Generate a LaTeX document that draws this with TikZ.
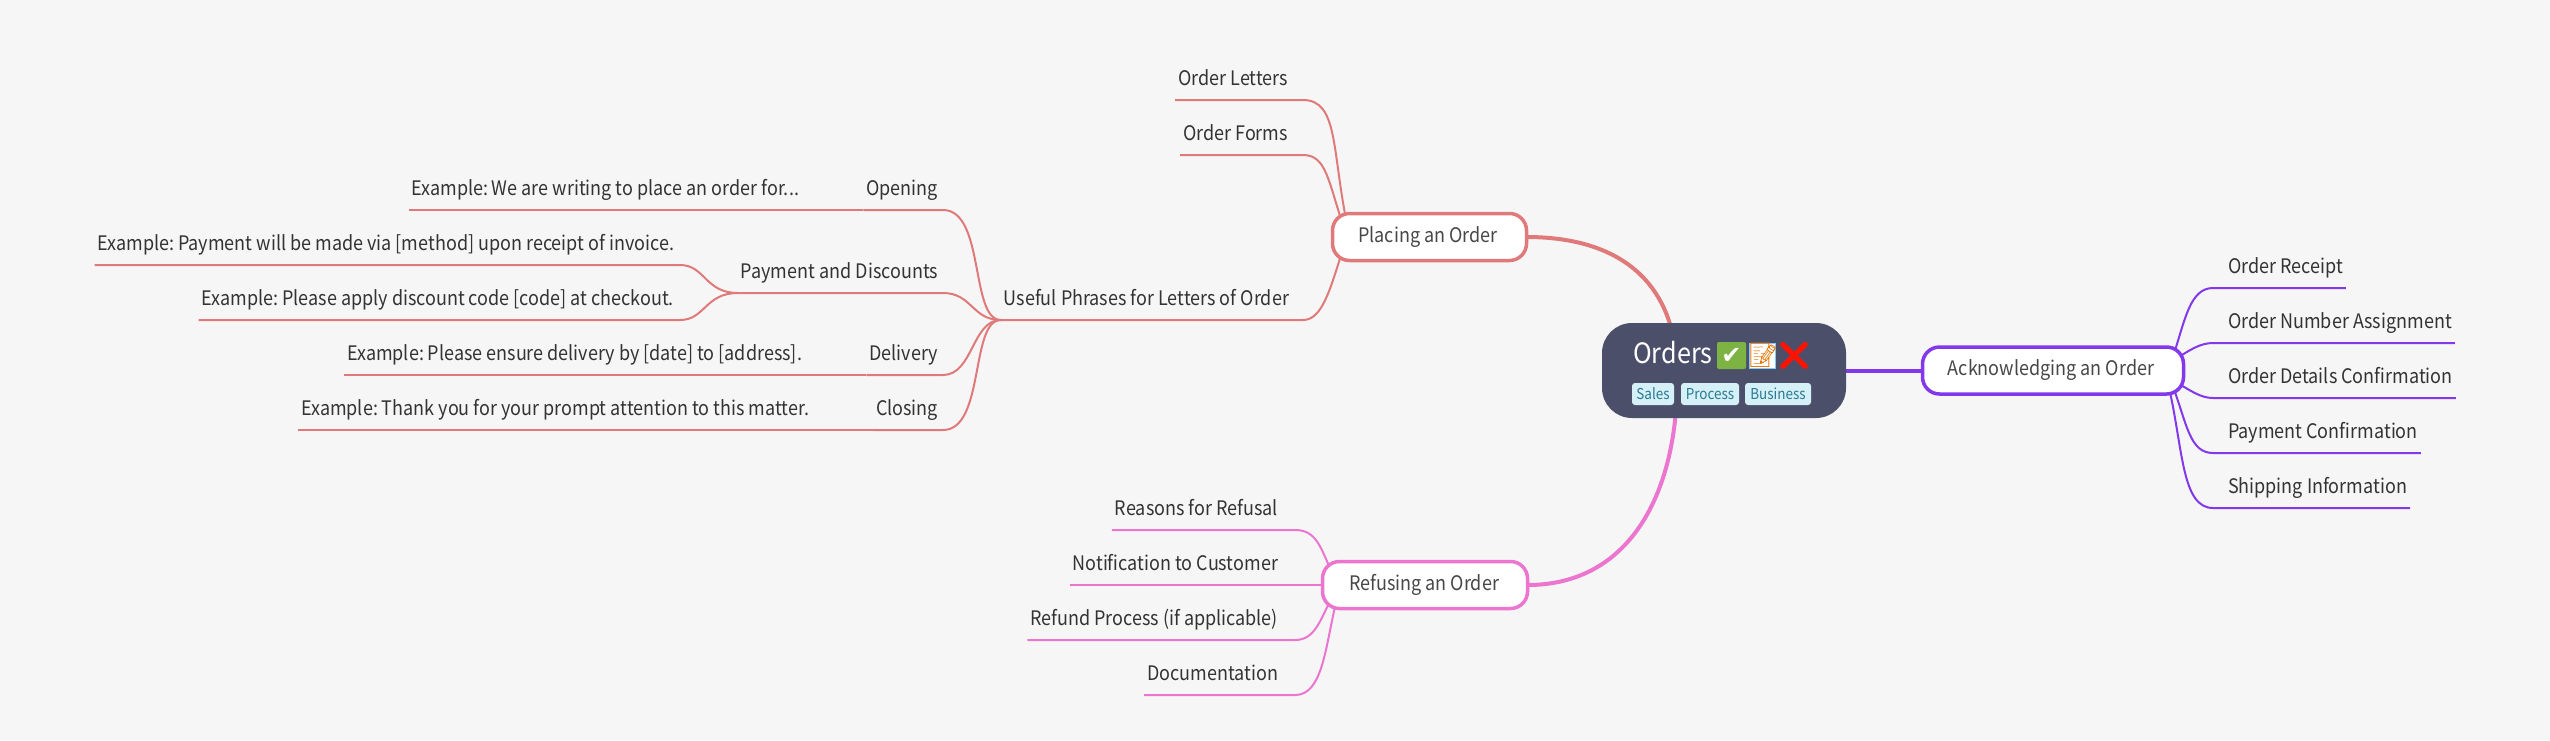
\documentclass[tikz,border=0pt]{standalone}
\usepackage{fontspec}
\setmainfont[FakeStretch=0.9]{Noto Sans CJK SC}
\newfontfamily\emojifont{Noto Emoji}
\newfontfamily\symbfont{DejaVu Sans}
\usetikzlibrary{backgrounds}
\definecolor{bgc}{HTML}{F6F6F6}
\definecolor{redc}{HTML}{E07A7A}
\definecolor{pinkc}{HTML}{EC75D0}
\definecolor{purc}{HTML}{8338EC}
\definecolor{rootc}{HTML}{4C4F69}
\definecolor{txtc}{HTML}{333333}
\definecolor{tagf}{HTML}{D5F0F7}
\definecolor{tagt}{HTML}{2A7A92}
\definecolor{checkc}{HTML}{7CB342}
\tikzset{
  x=1pt,y=-1pt,
  leaf/.style={inner xsep=3pt,inner ysep=0pt,outer sep=0pt,text height=15pt,text depth=15pt,text=txtc,font=\fontsize{20}{24}\selectfont},
  lefty/.style={leaf,anchor=south east},
  righty/.style={leaf,anchor=south west},
  branch/.style={draw,line width=3.5pt,fill=white,rounded corners=17pt,inner sep=0pt,outer sep=0pt,text=txtc!90!white,font=\fontsize{20}{24}\selectfont,minimum height=47pt},
  tagbox/.style={fill=tagf,text=tagt,rounded corners=3pt,inner sep=0pt,minimum height=22pt,font=\fontsize{15}{18}\selectfont},
  thin link/.style={line width=2pt},
  main link/.style={line width=4pt},
  emo/.style={inner sep=0pt,font=\emojifont\fontsize{24}{28}\selectfont},
}
\begin{document}
\begin{tikzpicture}
\useasboundingbox (0,0) rectangle (2550,740);
% central node
\node[fill=rootc,rounded corners=30pt,minimum width=244pt,minimum height=95pt,inner sep=0pt,outer sep=0pt] (root) at (1724,370.5) {};
\node[anchor=base west,inner sep=0pt,text=white,font=\fontsize{28}{32}\selectfont] (title) at (1633,363) {Orders};
\fill[checkc,rounded corners=2pt] (1717,342) rectangle (1746,369);
\node[inner sep=0pt,text=white,font=\symbfont\fontsize{24}{28}\selectfont] (echeck) at (1731.5,355.5) {✔};
\fill[white,draw=blue!40!cyan!50,line width=1pt] (1749,343) rectangle (1775,368);
\node[emo,text=orange!90!black] (ememo) at (1763,355.5) {📝};
\node[emo,text=red!85!orange,font=\emojifont\fontsize{28}{32}\selectfont] (ecross) at (1794,355.5) {❌};
\node[tagbox,minimum width=42pt] (t1) at (1653,394) {Sales};
\node[tagbox,minimum width=58pt] (t2) at (1710,394) {Process};
\node[tagbox,minimum width=66pt] (t3) at (1778,394) {Business};
% branch nodes
\node[branch,draw=redc,minimum width=194pt] (place) at (1429.5,237) {\kern-3pt Placing an Order};
\node[branch,draw=pinkc,minimum width=205pt] (refuse) at (1425,585) {\kern-2pt Refusing an Order};
\node[branch,draw=purc,minimum width=261pt] (ack) at (2053,370.5) {\kern-4pt Acknowledging an Order};
% left leaves of Placing
\node[lefty] (ol) at (1291,100) {Order Letters};
\node[lefty] (of) at (1291,155) {Order Forms};
\node[lefty] (up) at (1292,320) {Useful Phrases for Letters of Order};
\node[lefty] (op) at (941,210) {Opening};
\node[lefty] (pd) at (941,293) {Payment and Discounts};
\node[lefty] (de) at (941,375) {Delivery};
\node[lefty] (cl) at (941,430) {Closing};
\node[lefty] (e1) at (802,210) {Example:\kern-2pt{} We are writing to place an order for...};
\node[lefty] (e2) at (677,265) {Example:\kern-1.5pt{} Payment will be made via [method] upon receipt of invoice.};
\node[lefty] (e3) at (677,320) {Example:\kern-1.5pt{} Please apply discount code [code] at checkout.};
\node[lefty] (e4) at (805,375) {Example:\kern-1.5pt{} Please ensure delivery by [date] to [address].};
\node[lefty] (e5) at (812,430) {Example:\kern-1.5pt{} Thank you for your prompt attention to this matter.};
% leaves of Refusing
\node[lefty] (r1) at (1281,530) {Reasons for Refusal};
\node[lefty] (r2) at (1281,585) {Notification to Customer};
\node[lefty] (r3) at (1281,640) {Refund Process (if applicable)};
\node[lefty] (r4) at (1281,695) {Documentation};
% leaves of Acknowledging
\node[righty] (a1) at (2225,288) {Order Receipt};
\node[righty] (a2) at (2225,343) {Order Number Assignment};
\node[righty] (a3) at (2225,398) {Order Details Confirmation};
\node[righty] (a4) at (2225,453) {Payment Confirmation};
\node[righty] (a5) at (2225,508) {Shipping Information};
\begin{pgfonlayer}{background}
\fill[bgc] (0,0) rectangle (2550,740);
% main links
\draw[main link,redc] (place.east) .. controls (1600,237) and (1655,265) .. ([shift={(-52,8)}]root.north);
\draw[main link,pinkc] (refuse.east) .. controls (1620,585) and (1668,510) .. ([shift={(-48,-8)}]root.south);
\draw[main link,purc] (root.east) -- (ack.west);
% placing
\begin{scope}[thin link,redc]
\draw (ol.south west) -- (ol.south east) -- (1303,100) .. controls (1338,100) and (1332,150) .. ([shift={(14,8)}]place.north west);
\draw (of.south west) -- (of.south east) -- (1303,155) .. controls (1326,155) and (1328,180) .. ([shift={(10,10)}]place.north west);
\draw (up.south west) -- (up.south east) -- (1303,320) .. controls (1322,320) and (1330,290) .. ([shift={(10,-10)}]place.south west);
\draw (op.south west) -- (op.south east) -- (943,210) .. controls (985,210) and (970,320) .. (up.south west);
\draw (pd.south west) -- (pd.south east) -- (943,293) .. controls (972,293) and (972,320) .. (up.south west);
\draw (de.south west) -- (de.south east) -- (943,375) .. controls (973,375) and (972,320) .. (up.south west);
\draw (cl.south west) -- (cl.south east) -- (943,430) .. controls (985,430) and (970,320) .. (up.south west);
\draw (e1.south west) -- (op.south west);
\draw (e2.south west) -- (e2.south east) -- (680,265) .. controls (705,265) and (705,293) .. (pd.south west);
\draw (e3.south west) -- (e3.south east) -- (680,320) .. controls (705,320) and (705,293) .. (pd.south west);
\draw (e4.south west) -- (de.south west);
\draw (e5.south west) -- (cl.south west);
\end{scope}
% refusing
\begin{scope}[thin link,pinkc]
\draw (r1.south west) -- (r1.south east) -- (1295,530) .. controls (1315,530) and (1320,545) .. ([shift={(8,8)}]refuse.north west);
\draw (r2.south west) -- (refuse.west);
\draw (r3.south west) -- (r3.south east) -- (1295,640) .. controls (1315,640) and (1320,620) .. ([shift={(8,-8)}]refuse.south west);
\draw (r4.south west) -- (r4.south east) -- (1295,695) .. controls (1322,695) and (1325,650) .. ([shift={(13,-4)}]refuse.south west);
\end{scope}
% acknowledging
\begin{scope}[thin link,purc]
\draw (a1.south east) -- (a1.south west) -- (2213,288) .. controls (2190,288) and (2185,320) .. ([shift={(-10,8)}]ack.north east);
\draw (a2.south east) -- (a2.south west) -- (2213,343) .. controls (2200,343) and (2190,350) .. ([shift={(-8,12)}]ack.north east);
\draw (a3.south east) -- (a3.south west) -- (2213,398) .. controls (2200,398) and (2190,390) .. ([shift={(-8,-12)}]ack.south east);
\draw (a4.south east) -- (a4.south west) -- (2213,453) .. controls (2190,453) and (2187,425) .. ([shift={(-10,-6)}]ack.south east);
\draw (a5.south east) -- (a5.south west) -- (2213,508) .. controls (2182,508) and (2183,450) .. ([shift={(-14,-4)}]ack.south east);
\end{scope}
\end{pgfonlayer}
\end{tikzpicture}
\end{document}
